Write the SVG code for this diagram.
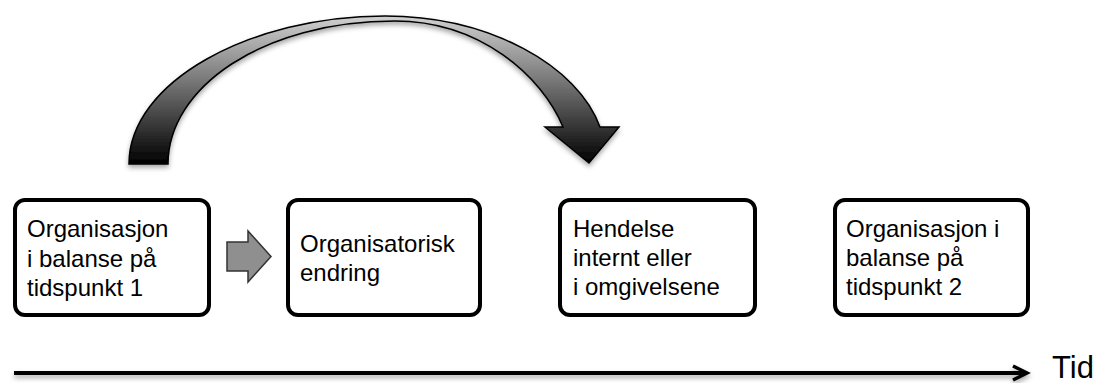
<svg xmlns="http://www.w3.org/2000/svg" width="1099" height="383" viewBox="0 0 1099 383">
  <style>
    .box { fill: #ffffff; stroke: #000000; stroke-width: 4; }
    .lbl { font-family: "Liberation Sans", Arial, sans-serif; font-size: 24px; fill: #000000; }
    .tid { font-family: "Liberation Sans", Arial, sans-serif; font-size: 31px; fill: #000000; }
  </style>
  <defs>
    <linearGradient id="curveGrad" gradientUnits="userSpaceOnUse" x1="0" y1="16" x2="0" y2="164">
      <stop offset="0" stop-color="#d0d0d0"/>
      <stop offset="0.35" stop-color="#8a8a8a"/>
      <stop offset="1" stop-color="#000000"/>
    </linearGradient>
    <filter id="shadow" x="-10%" y="-10%" width="120%" height="130%">
      <feDropShadow dx="0" dy="3" stdDeviation="2.5" flood-color="#000000" flood-opacity="0.35"/>
    </filter>
    <marker id="openHead" viewBox="0 0 10 10" refX="9" refY="5" markerWidth="4" markerHeight="4" orient="auto" markerUnits="strokeWidth">
      <path d="M1,1 L9,5 L1,9" fill="none" stroke="#000000" stroke-width="2"/>
    </marker>
  </defs>

  <g id="connectors">
    <path id="curved-arrow" filter="url(#shadow)" fill="url(#curveGrad)" stroke="#000000" stroke-width="1.5" stroke-linejoin="miter"
      d="M129,164 C129,82 250,16 385,16 C490,16 578,66 600,127 L619,127 L589,163 L545,127 L563,127 C542,76 480,21 395,21 C262,21 168,88 168,164 Z"/>
    <path id="block-arrow" fill="#8f8f8f" stroke="#333333" stroke-width="1.5"
      d="M227,242 L248,242 L248,231 L271,256.5 L248,282 L248,271 L227,271 Z"/>
    <g id="time-axis" filter="url(#shadow)">
      <line x1="14" y1="373" x2="1024" y2="373" stroke="#000000" stroke-width="4"/>
      <path d="M1013,366 L1027,373 L1013,380" fill="none" stroke="#000000" stroke-width="3.5" stroke-linejoin="miter"/>
    </g>
  </g>

  <g id="node-1">
    <rect class="box" x="15" y="200" width="194" height="115" rx="10"/>
    <text class="lbl" x="27" y="237">Organisasjon</text>
    <text class="lbl" x="27" y="266.5">i balanse på</text>
    <text class="lbl" x="27" y="296">tidspunkt 1</text>
  </g>

  <g id="node-2">
    <rect class="box" x="288" y="200" width="192" height="115" rx="10"/>
    <text class="lbl" x="300" y="252">Organisatorisk</text>
    <text class="lbl" x="300" y="281">endring</text>
  </g>

  <g id="node-3">
    <rect class="box" x="560" y="200" width="195" height="115" rx="10"/>
    <text class="lbl" x="573" y="237">Hendelse</text>
    <text class="lbl" x="573" y="266">internt eller</text>
    <text class="lbl" x="573" y="295">i omgivelsene</text>
  </g>

  <g id="node-4">
    <rect class="box" x="835" y="200" width="193" height="115" rx="10"/>
    <text class="lbl" x="846" y="237">Organisasjon i</text>
    <text class="lbl" x="846" y="266">balanse på</text>
    <text class="lbl" x="846" y="295">tidspunkt 2</text>
  </g>

  <g id="axis-label">
    <text class="tid" x="1052" y="378">Tid</text>
  </g>
</svg>
